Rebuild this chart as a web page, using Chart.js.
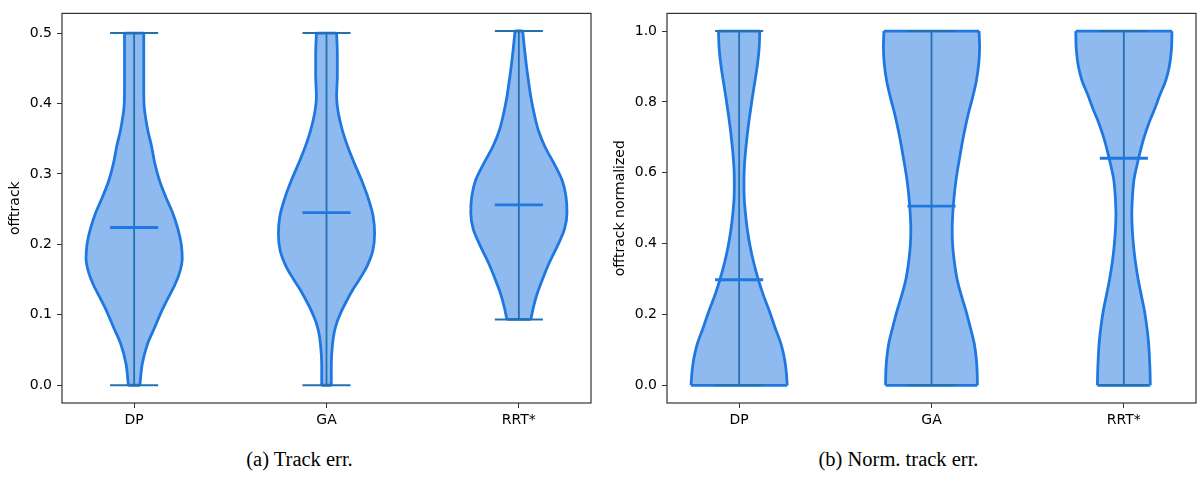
<!DOCTYPE html>
<html>
<head>
<meta charset="utf-8">
<script src="https://cdn.jsdelivr.net/npm/chart.js@4.4.0/dist/chart.umd.min.js"></script>
<style>
    body {
        margin: 0;
        background: #fff;
        width: 1198px;
        height: 477px;
        overflow: hidden;
        position: relative;
    }

    .panel {
        position: absolute;
        top: 0;
        height: 440px;
    }

    #leftPanel { left: 0; width: 600px; }
    #rightPanel { left: 600px; width: 598px; }

    .caption {
        position: absolute;
        top: 448px;
        font-family: 'Liberation Serif', 'Times New Roman', serif;
        font-size: 20.5px;
        color: #000;
        text-align: center;
    }
</style>
</head>
<body>
<div class="panel" id="leftPanel"><canvas id="trackChart"></canvas></div>
<div class="panel" id="rightPanel"><canvas id="normChart"></canvas></div>
<div class="caption" style="left: 0; width: 599px;">(a) Track err.</div>
<div class="caption" style="left: 599px; width: 599px;">(b) Norm. track err.</div>

<script>
const categories = ['DP', 'GA', 'RRT*'];
const trackTicks = [0, 0.1, 0.2, 0.3, 0.4, 0.5];
const normTicks = [0, 0.2, 0.4, 0.6, 0.8, 1.0];

// violin profiles: [offtrack value, density relative to the widest point]
const trackDP = [
    [0, 0.12], [0.031, 0.17], [0.059, 0.28], [0.081, 0.42], [0.105, 0.57],
    [0.123, 0.7], [0.143, 0.85], [0.161, 0.95], [0.18, 1.0], [0.2, 0.98],
    [0.222, 0.91], [0.245, 0.8], [0.267, 0.66], [0.29, 0.53], [0.315, 0.43],
    [0.34, 0.36], [0.36, 0.29], [0.375, 0.25], [0.395, 0.21], [0.42, 0.2],
    [0.46, 0.2], [0.5, 0.2]
];
const trackGA = [
    [0, 0.1], [0.03, 0.1], [0.055, 0.12], [0.075, 0.16], [0.09, 0.22],
    [0.105, 0.31], [0.12, 0.42], [0.135, 0.54], [0.151, 0.69], [0.17, 0.85],
    [0.19, 0.96], [0.215, 1.0], [0.24, 0.97], [0.265, 0.87], [0.291, 0.73],
    [0.315, 0.58], [0.339, 0.44], [0.362, 0.33], [0.385, 0.25], [0.41, 0.21],
    [0.44, 0.225], [0.47, 0.225], [0.5, 0.21]
];
const trackRRT = [
    [0.0934, 0.25], [0.11, 0.3], [0.13, 0.38], [0.152, 0.5], [0.175, 0.64],
    [0.199, 0.81], [0.222, 0.95], [0.245, 1.0], [0.268, 0.98], [0.291, 0.9],
    [0.315, 0.73], [0.339, 0.54], [0.361, 0.41], [0.385, 0.32], [0.409, 0.25],
    [0.432, 0.2], [0.455, 0.155], [0.479, 0.115], [0.503, 0.08]
];
const trackMin = [0, 0, 0.0934];
const trackMax = [0.5, 0.5, 0.503];
const trackMedian = [0.224, 0.245, 0.256];

const normDP = [
    [0, 1.0], [0.03, 0.985], [0.061, 0.96], [0.09, 0.92], [0.117, 0.87],
    [0.162, 0.75], [0.209, 0.63], [0.256, 0.5], [0.298, 0.4], [0.348, 0.3],
    [0.395, 0.225], [0.44, 0.17], [0.487, 0.13], [0.53, 0.105], [0.575, 0.1],
    [0.62, 0.11], [0.67, 0.14], [0.72, 0.18], [0.766, 0.225], [0.813, 0.275],
    [0.86, 0.33], [0.905, 0.38], [0.95, 0.415], [1.0, 0.43]
];
const normGA = [
    [0, 0.955], [0.035, 0.95], [0.07, 0.935], [0.117, 0.89], [0.162, 0.81],
    [0.209, 0.72], [0.256, 0.615], [0.301, 0.53], [0.348, 0.475], [0.395, 0.44],
    [0.44, 0.43], [0.49, 0.445], [0.54, 0.475], [0.58, 0.51], [0.627, 0.565],
    [0.674, 0.625], [0.72, 0.69], [0.766, 0.765], [0.813, 0.855], [0.858, 0.93],
    [0.905, 0.98], [0.953, 1.0], [1.0, 0.99]
];
const normRRT = [
    [0, 0.55], [0.035, 0.545], [0.07, 0.535], [0.117, 0.515], [0.162, 0.48],
    [0.209, 0.43], [0.256, 0.36], [0.301, 0.295], [0.348, 0.24], [0.395, 0.2],
    [0.44, 0.175], [0.48, 0.165], [0.524, 0.175], [0.58, 0.21], [0.62, 0.27],
    [0.66, 0.34], [0.7, 0.42], [0.74, 0.52], [0.78, 0.64], [0.82, 0.75],
    [0.86, 0.87], [0.9, 0.945], [0.95, 0.99], [1.0, 1.0]
];
const normMin = [0, 0, 0];
const normMax = [1, 1, 1];
const normMedian = [0.298, 0.506, 0.641];

const HALF_WIDTH = 0.25;
const CAP_HALF = 0.125;
const FILL = '#8fbaf0';
const EDGE = '#1f78e0';
const BAR = '#2272b2';

function seg(x1, x2, y1, y2, color, width, order) {
    return {
        data: [{x: x1, y: y1}, {x: x2, y: y2}],
        borderColor: color,
        borderWidth: width,
        pointRadius: 0,
        fill: false,
        tension: 0,
        order: order
    };
}

function violinDatasets(profiles, mins, maxs, medians) {
    const sets = [];
    profiles.forEach((profile, i) => {
        const pos = i + 1;
        const right = profile.map(p => ({x: pos + p[1] * HALF_WIDTH, y: p[0]}));
        const left = profile.map(p => ({x: pos - p[1] * HALF_WIDTH, y: p[0]}));
        const first = profile[0];
        const last = profile[profile.length - 1];

        sets.push({
            data: right,
            borderColor: EDGE,
            borderWidth: 2.8,
            backgroundColor: FILL,
            fill: '+1',
            pointRadius: 0,
            cubicInterpolationMode: 'monotone',
            order: 4
        });
        sets.push({
            data: left,
            borderColor: EDGE,
            borderWidth: 2.8,
            pointRadius: 0,
            fill: false,
            cubicInterpolationMode: 'monotone',
            order: 3
        });
        sets.push(seg(pos - first[1] * HALF_WIDTH, pos + first[1] * HALF_WIDTH, first[0], first[0], EDGE, 2.8, 3));
        sets.push(seg(pos - last[1] * HALF_WIDTH, pos + last[1] * HALF_WIDTH, last[0], last[0], EDGE, 2.8, 3));

        sets.push(seg(pos, pos, mins[i], maxs[i], BAR, 1.8, 2));
        sets.push(seg(pos - CAP_HALF, pos + CAP_HALF, mins[i], mins[i], BAR, 2, 1));
        sets.push(seg(pos - CAP_HALF, pos + CAP_HALF, maxs[i], maxs[i], BAR, 2, 1));
        sets.push(seg(pos - CAP_HALF, pos + CAP_HALF, medians[i], medians[i], EDGE, 2.8, 0));
    });
    return sets;
}

const frame = {
    id: 'frame',
    afterDatasetsDraw(chart) {
        const {ctx, chartArea: a} = chart;
        ctx.save();
        ctx.strokeStyle = '#333';
        ctx.lineWidth = 1.2;
        ctx.strokeRect(a.left, a.top, a.right - a.left, a.bottom - a.top);
        ctx.restore();
    }
};

const tickFont = {family: 'DejaVu Sans', size: 14, lineHeight: 1.2};

function makeChart(id, datasets, opts) {
    return new Chart(document.getElementById(id), {
        type: 'line',
        data: {datasets: datasets},
        plugins: [frame],
        options: {
            indexAxis: 'y',
            responsive: true,
            maintainAspectRatio: false,
            animation: false,
            layout: {padding: {top: 8, right: opts.padRight, left: 0, bottom: 0}},
            plugins: {legend: {display: false}, tooltip: {enabled: false}},
            scales: {
                x: {
                    type: 'linear',
                    position: 'bottom',
                    min: 0.625,
                    max: 3.375,
                    afterBuildTicks: s => { s.ticks = [1, 2, 3].map(v => ({value: v})); },
                    afterFit: s => { s.height = 37; },
                    ticks: {
                        autoSkip: false,
                        maxRotation: 0,
                        padding: 4,
                        color: '#000',
                        font: tickFont,
                        callback: v => categories[v - 1]
                    },
                    grid: {drawOnChartArea: false, tickLength: 5, tickColor: '#333'},
                    border: {display: false}
                },
                y: {
                    type: 'linear',
                    position: 'left',
                    min: opts.yMin,
                    max: opts.yMax,
                    afterBuildTicks: s => { s.ticks = opts.ticks.map(v => ({value: v})); },
                    afterFit: s => { s.width = opts.axisWidth; },
                    ticks: {
                        padding: 5,
                        color: '#000',
                        font: tickFont,
                        callback: v => v.toFixed(1)
                    },
                    grid: {drawOnChartArea: false, tickLength: 5, tickColor: '#333'},
                    border: {display: false},
                    title: {
                        display: true,
                        text: opts.title,
                        color: '#000',
                        font: tickFont,
                        padding: {top: opts.titlePad, bottom: 0}
                    }
                }
            }
        }
    });
}

makeChart('trackChart',
    violinDatasets([trackDP, trackGA, trackRRT], trackMin, trackMax, trackMedian),
    {yMin: -0.0252, yMax: 0.528, ticks: trackTicks, title: 'offtrack', titlePad: 7, axisWidth: 62, padRight: 9});

makeChart('normChart',
    violinDatasets([normDP, normGA, normRRT], normMin, normMax, normMedian),
    {yMin: -0.05, yMax: 1.05, ticks: normTicks, title: 'offtrack normalized', titlePad: 12, axisWidth: 67, padRight: 2});
</script>
</body>
</html>
